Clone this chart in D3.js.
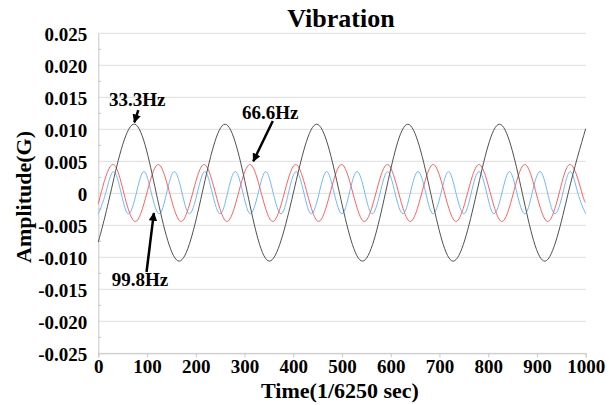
<!DOCTYPE html>
<html>
<head>
<meta charset="utf-8">
<script src="https://cdn.jsdelivr.net/npm/d3@7"></script>
<style>
  body { margin: 0; background: #fff; }
  text { font-family: "Liberation Serif", "Times New Roman", serif; font-weight: bold; fill: #000; }
</style>
</head>
<body>
<script>
'use strict';

// time ticks (1/6250 sec) and amplitude ticks (G)
const xTicks = [0, 100, 200, 300, 400, 500, 600, 700, 800, 900, 1000];
const yTicks = [0.025, 0.02, 0.015, 0.01, 0.005, 0, -0.005, -0.01, -0.015, -0.02, -0.025];
const yMinorTicks = [0.0225, 0.0175, 0.0125, 0.0075, 0.0025, -0.0025, -0.0075, -0.0125, -0.0175, -0.0225];

// 33.3Hz wave, [time, amplitude] read at peaks, troughs and zero crossings
const wave333 = [
  [0, -0.0076], [25, 0], [72, 0.0108], [119, 0], [166, -0.0106], [213, 0],
  [260, 0.0108], [306, 0], [351, -0.0106], [400, 0], [448, 0.0108], [495, 0],
  [542, -0.0106], [589, 0], [635, 0.0108], [682, 0], [728, -0.0106], [776, 0],
  [823, 0.0108], [870, 0], [917, -0.0106], [964, 0], [1000, 0.0101]
];

// 66.6Hz wave
const wave666 = [
  [0, -0.0017], [5.5, 0], [29, 0.0045], [52.5, 0], [76, -0.0044], [99.5, 0],
  [123, 0.0045], [146.5, 0], [170, -0.0044], [193.5, 0], [217, 0.0045], [240.5, 0],
  [264, -0.0044], [287.5, 0], [311, 0.0045], [334.5, 0], [358, -0.0044], [381.5, 0],
  [405, 0.0045], [428.5, 0], [452, -0.0044], [475.5, 0], [499, 0.0045], [522.5, 0],
  [546, -0.0044], [569.5, 0], [593, 0.0045], [616.5, 0], [640, -0.0044], [663.5, 0],
  [687, 0.0045], [710.5, 0], [734, -0.0044], [757.5, 0], [781, 0.0045], [804.5, 0],
  [828, -0.0044], [851.5, 0], [875, 0.0045], [898.5, 0], [922, -0.0044], [945.5, 0],
  [969, 0.0045], [992.5, 0], [1000, -0.0014]
];

// 99.8Hz wave
const wave998 = [
  [0, -0.0032], [15, 0], [31, 0.0034], [47, 0], [62, -0.0032], [78, 0],
  [93.5, 0.0034], [109, 0], [125, -0.0032], [140, 0], [156, 0.0034], [172, 0],
  [187, -0.0032], [203, 0], [218.5, 0.0034], [234, 0], [250, -0.0032], [265, 0],
  [281, 0.0034], [297, 0], [312, -0.0032], [328, 0], [343.5, 0.0034], [359, 0],
  [375, -0.0032], [390, 0], [406, 0.0034], [422, 0], [437, -0.0032], [453, 0],
  [468.5, 0.0034], [484, 0], [500, -0.0032], [515, 0], [531, 0.0034], [547, 0],
  [562, -0.0032], [578, 0], [593.5, 0.0034], [609, 0], [625, -0.0032], [640, 0],
  [656, 0.0034], [672, 0], [687, -0.0032], [703, 0], [718.5, 0.0034], [734, 0],
  [750, -0.0032], [765, 0], [781, 0.0034], [797, 0], [812, -0.0032], [828, 0],
  [843.5, 0.0034], [859, 0], [875, -0.0032], [890, 0], [906, 0.0034], [922, 0],
  [937, -0.0032], [953, 0], [968.5, 0.0034], [984, 0], [1000, -0.0032]
];

// annotation labels: text anchor, arrow tail and arrow tip in data units
const labels = ["33.3Hz", "66.6Hz", "99.8Hz"];
const labelPos = [[22, 0.0136], [295, 0.0116], [27.5, -0.0145]];
const arrowTail = [[82, 0.0130], [358, 0.0113], [99, -0.0123]];
const arrowTip = [[74, 0.0111], [318, 0.0050], [114, -0.0031]];

const width = 614, height = 405;
const margin = {top: 33.3, right: 28.3, bottom: 51.7, left: 98.3};

const svg = d3.select('body').append('svg')
  .attr('width', width)
  .attr('height', height);

const x = d3.scaleLinear().domain([0, 1000]).range([margin.left, width - margin.right]);
const y = d3.scaleLinear().domain([-0.025, 0.025]).range([height - margin.bottom, margin.top]);

// grid lines
svg.append('g')
  .selectAll('line')
  .data(yTicks)
  .enter()
  .append('line')
    .attr('x1', x(0))
    .attr('x2', x(1000))
    .attr('y1', (d) => y(d))
    .attr('y2', (d) => y(d))
    .attr('stroke', '#dedede')
    .attr('stroke-width', 1);

// minor ticks on the left axis
svg.append('g')
  .selectAll('line')
  .data(yMinorTicks)
  .enter()
  .append('line')
    .attr('x1', x(0))
    .attr('x2', x(0) + 3)
    .attr('y1', (d) => y(d))
    .attr('y2', (d) => y(d))
    .attr('stroke', '#c8c8c8');

// x axis
const xAxis = d3.axisBottom(x)
  .tickValues(xTicks)
  .tickSize(4)
  .tickPadding(2.5)
  .tickFormat(d3.format('d'));
const gx = svg.append('g')
  .attr('transform', 'translate(0,' + y(-0.025) + ')')
  .call(xAxis);
gx.select('.domain').attr('stroke', '#c8c8c8');
gx.selectAll('.tick line').attr('stroke', '#c8c8c8');
gx.selectAll('.tick text').style('font-size', '19px').attr('fill', '#000');

// y axis
const yAxis = d3.axisLeft(y)
  .tickValues(yTicks)
  .tickSize(0)
  .tickPadding(11)
  .tickFormat((d) => d === 0 ? '0' : d.toFixed(3));
const gy = svg.append('g')
  .attr('transform', 'translate(' + x(0) + ',0)')
  .call(yAxis);
gy.select('.domain').attr('stroke', '#c8c8c8');
gy.selectAll('.tick text')
  .style('font-size', '19px')
  .attr('dy', '0.36em')
  .attr('fill', '#000');

// waves
const line = d3.line()
  .x((d) => x(d[0]))
  .y((d) => y(d[1]))
  .curve(d3.curveNatural);

const series = [
  {data: wave998, color: '#70b8ff'},
  {data: wave666, color: '#ff5c5c'},
  {data: wave333, color: '#505050'}
];

series.forEach((s) => {
  svg.append('path')
    .datum(s.data)
    .attr('fill', 'none')
    .attr('stroke', s.color)
    .attr('stroke-width', 1)
    .attr('d', line);
});

// arrow head
svg.append('defs').append('marker')
  .attr('id', 'head')
  .attr('viewBox', '0 0 10 10')
  .attr('refX', 9)
  .attr('refY', 5)
  .attr('markerWidth', 3.6)
  .attr('markerHeight', 3.4)
  .attr('orient', 'auto')
  .append('path')
    .attr('d', 'M0,0 L10,5 L0,10 z')
    .attr('fill', '#000');

labels.forEach((label, i) => {
  svg.append('line')
    .attr('x1', x(arrowTail[i][0]))
    .attr('y1', y(arrowTail[i][1]))
    .attr('x2', x(arrowTip[i][0]))
    .attr('y2', y(arrowTip[i][1]))
    .attr('stroke', '#000')
    .attr('stroke-width', 2.5)
    .attr('marker-end', 'url(#head)');

  svg.append('text')
    .attr('x', x(labelPos[i][0]))
    .attr('y', y(labelPos[i][1]))
    .style('font-size', '19px')
    .text(label);
});

// title and axis labels
svg.append('text')
  .attr('x', 341)
  .attr('y', 27)
  .attr('text-anchor', 'middle')
  .style('font-size', '26px')
  .text('Vibration');

svg.append('text')
  .attr('x', 340)
  .attr('y', 398)
  .attr('text-anchor', 'middle')
  .style('font-size', '22px')
  .text('Time(1/6250 sec)');

svg.append('text')
  .attr('transform', 'translate(31,' + 197 + ')rotate(-90)')
  .attr('text-anchor', 'middle')
  .style('font-size', '22px')
  .text('Amplitude(G)');
</script>
</body>
</html>
